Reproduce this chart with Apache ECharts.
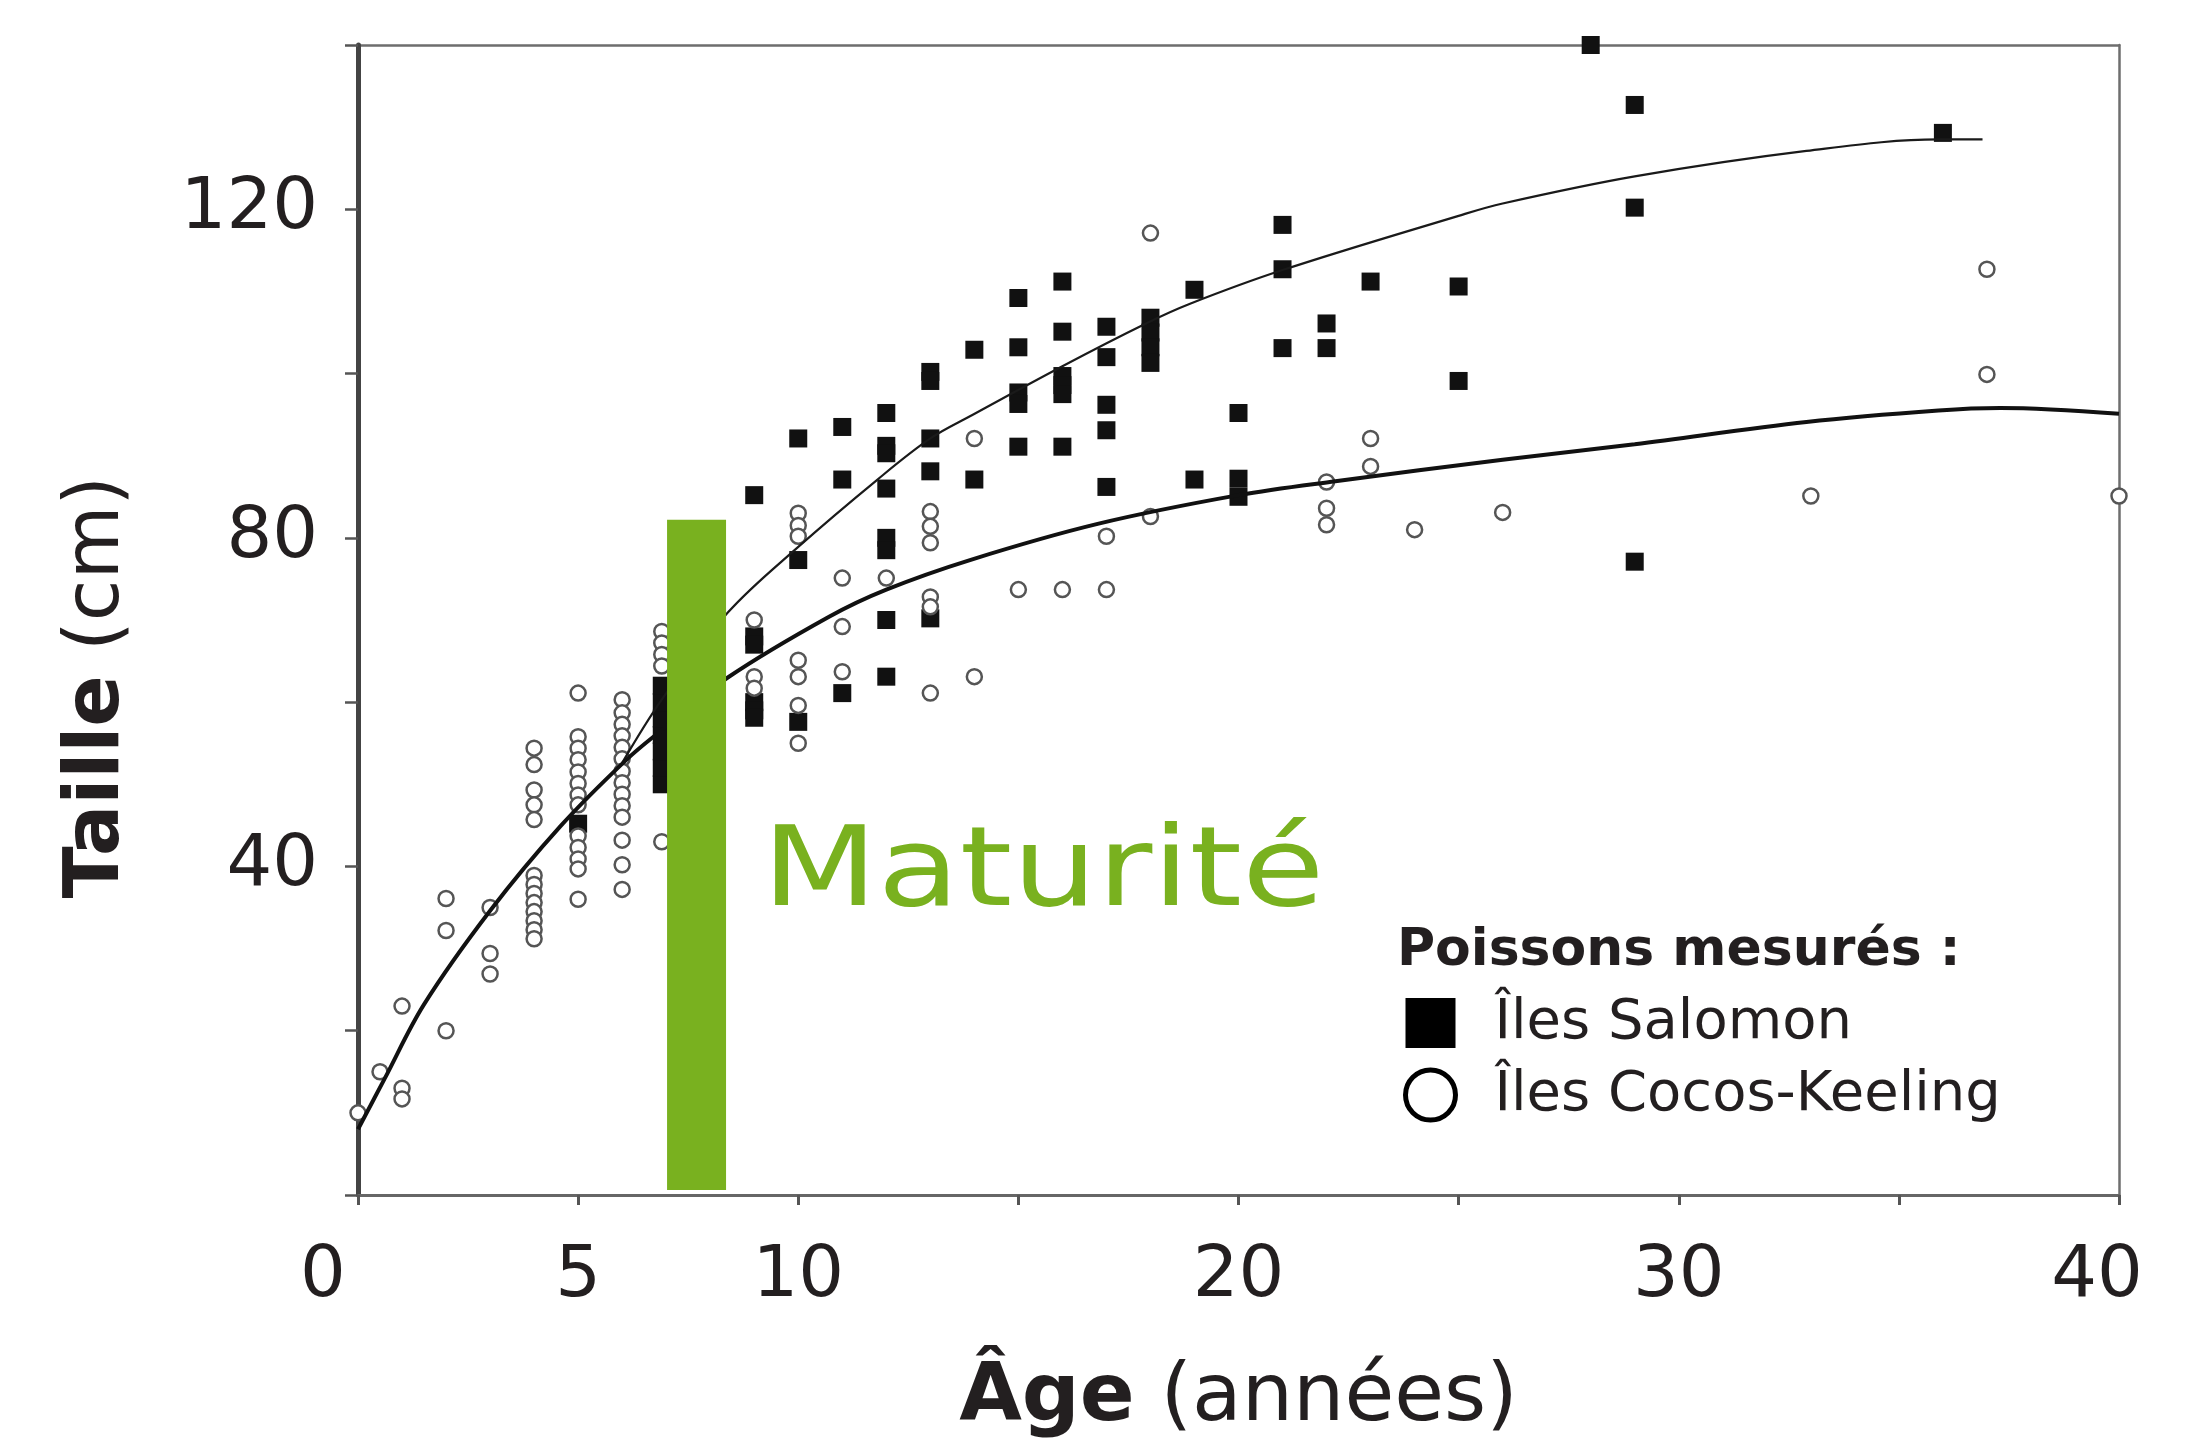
<!DOCTYPE html>
<html>
<head>
<meta charset="utf-8">
<script src="https://cdn.jsdelivr.net/npm/echarts@6/dist/echarts.min.js"></script>
<style>
html,body{margin:0;padding:0;background:#fff;}
#c{width:2191px;height:1445px;}
</style>
</head>
<body>
<div id="c"></div>
<script>
// ---- Data ----
// Îles Salomon (filled squares): [age (années), taille (cm)]
const salomon = [
  [5,45.2],
  [6.9,50],[6.9,52],[6.9,54],[6.9,56],[6.9,58],[6.9,60],[6.9,62],
  [9,85.2],[9,68.0],[9,67.0],[9,60.0],[9,59.0],[9,58.1],
  [10,92.1],[10,77.3],[10,57.6],
  [11,93.5],[11,87.1],[11,61.1],
  [12,95.2],[12,91.2],[12,90.3],[12,86.0],[12,80.0],[12,78.5],[12,70.0],[12,63.1],
  [13,100.2],[13,99.1],[13,92.1],[13,88.1],[13,70.2],
  [14,102.9],[14,87.1],
  [15,109.2],[15,103.2],[15,97.7],[15,96.3],[15,91.1],
  [16,111.2],[16,105.1],[16,99.7],[16,98.6],[16,97.5],[16,91.1],
  [17,105.7],[17,102.0],[17,96.2],[17,93.1],[17,86.2],
  [18,106.8],[18,105.0],[18,103.2],[18,101.3],
  [19,110.2],[19,87.1],
  [20,95.2],[20,87.2],[20,85.0],
  [21,118.1],[21,112.7],[21,103.1],
  [22,106.1],[22,103.1],
  [23,111.2],
  [25,110.6],[25,99.1],
  [28,140],
  [29,132.7],[29,120.2],[29,77.1],
  [36,129.3]
];
// Îles Cocos-Keeling (open circles): [age, taille]
const cocos = [
  [0,10.0],[0.5,15.0],
  [1,23.0],[1,13.0],[1,11.7],
  [2,36.1],[2,32.2],[2,20.0],
  [3,35.0],[3,29.4],[3,26.9],
  [4,54.4],[4,52.4],[4,49.3],[4,47.5],[4,45.7],
  [4,38.9],[4,37.8],[4,36.7],[4,35.6],[4,34.5],[4,33.4],[4,32.3],[4,31.2],
  [5,61.1],[5,55.8],[5,54.4],[5,53.0],[5,51.5],[5,50.1],[5,48.7],[5,47.5],
  [5,43.7],[5,42.3],[5,40.9],[5,39.7],[5,36.0],
  [6,60.3],[6,58.7],[6,57.3],[6,55.9],[6,54.5],[6,53.1],[6,51.6],[6,50.2],[6,48.8],[6,47.4],[6,46.0],
  [6,43.2],[6,40.2],[6,37.2],
  [6.9,68.6],[6.9,67.2],[6.9,65.8],[6.9,64.4],[6.9,43.0],
  [9,70.0],[9,63.1],[9,61.7],
  [10,83.0],[10,81.5],[10,80.2],[10,65.1],[10,63.1],[10,59.6],[10,55.0],
  [11,75.1],[11,69.2],[11,63.7],
  [12,75.1],
  [13,83.2],[13,81.4],[13,79.4],[13,72.8],[13,71.6],[13,61.1],
  [14,92.1],[14,63.1],
  [15,73.7],[16,73.7],
  [17,80.2],[17,73.7],
  [18,117.1],[18,82.6],
  [22,86.8],[22,83.6],[22,81.6],
  [23,92.1],[23,88.7],
  [24,81.0],[26,83.1],[33,85.1],
  [37,112.7],[37,99.9],
  [40,85.1]
];
// Growth curves
const salomonCurve = [
  [6.0,52.6],[6.9,60.3],[8.4,70.9],[10.0,78.9],[11.8,87.1],[13.0,92.1],[13.9,94.8],
  [16.0,100.9],[17.9,106.1],[18.9,108.5],[21.0,112.6],[25.0,119.2],[26.0,120.7],
  [29.0,124.0],[32.9,127.1],[35.9,128.5],[36.9,128.5]
];
const cocosCurve = [
  [0,8.0],[0.6,14.1],[1.5,23.2],[3.0,34.6],[4.6,44.9],[6.1,53.0],[6.9,56.6],[8.4,63.0],
  [10.7,70.4],[12.0,73.7],[13.9,77.3],[16.8,81.7],[20.0,85.2],[22.2,86.9],[26.0,89.5],
  [29.0,91.4],[32.9,94.1],[35.9,95.5],[37.3,95.8],[40.0,95.1]
];
// Maturity band: [age start, age end, taille bottom, taille top]
const maturity = [7.02, 8.36, 0.6, 82.2];
// Tick labels shown
const xLabels = [0,5,10,20,30,40];
const yLabels = [40,80,120];
const seriesNames = ['Îles Salomon','Îles Cocos-Keeling'];

// ---- Chart ----
const FONT = 'DejaVu Sans';
const TEXT = '#231f20';
const GREEN = '#79b11f';
const chart = echarts.init(document.getElementById('c'), null, {renderer:'canvas'});

const frameAxis = {
  show:true,
  axisLine:{show:true,onZero:false,lineStyle:{color:'#6e6e6e',width:2.5}},
  axisTick:{show:false}, axisLabel:{show:false}, splitLine:{show:false}
};

const option = {
  animation:false,
  backgroundColor:'#ffffff',
  grid:{left:358,right:72,top:45,bottom:250,show:false},
  title:{
    text:'Poissons mesurés :',
    left:1392, top:920,
    textStyle:{fontFamily:FONT,fontWeight:'bold',fontSize:52,color:TEXT}
  },
  legend:{
    orient:'vertical', left:1398, top:990,
    itemWidth:50, itemHeight:50, itemGap:16,
    selectedMode:false,
    textStyle:{fontFamily:FONT,fontSize:56,color:TEXT,padding:[0,0,0,34]},
    data:[
      {name:seriesNames[0], icon:'rect', itemStyle:{color:'#000',borderWidth:0}},
      {name:seriesNames[1], icon:'circle', itemStyle:{color:'#fff',borderColor:'#000',borderWidth:5}}
    ]
  },
  xAxis:[{
    type:'value', min:0, max:40, interval:5, position:'bottom', z:3,
    axisLine:{show:true,onZero:false,lineStyle:{color:'#666',width:3}},
    axisTick:{show:true,length:10,lineStyle:{color:'#555',width:3}},
    splitLine:{show:false},
    axisLabel:{
      margin:46, fontFamily:FONT, fontSize:72, color:TEXT,
      formatter:function(v){
        if (xLabels.indexOf(v) < 0) return '';
        if (v === 0) return '{z|' + v + '}';
        if (v === 40) return '{f|' + v + '}';
        return String(v);
      },
      rich:{
        z:{fontFamily:FONT,fontSize:72,color:TEXT,padding:[0,70,0,0]},
        f:{fontFamily:FONT,fontSize:72,color:TEXT,padding:[0,44,0,0]}
      }
    },
    name:'{b|Âge}{n|\u00a0(années)}',
    nameLocation:'middle', nameGap:163,
    nameTextStyle:{
      color:TEXT,
      rich:{
        b:{fontFamily:FONT,fontWeight:'bold',fontSize:81,color:TEXT},
        n:{fontFamily:FONT,fontSize:81,color:TEXT}
      }
    }
  }, Object.assign({type:'value',min:0,max:40,position:'top'}, frameAxis)],
  yAxis:[{
    type:'value', min:0, max:140, interval:20, position:'left', z:3,
    axisLine:{show:true,onZero:false,lineStyle:{color:'#444',width:5}},
    axisTick:{show:true,length:13,lineStyle:{color:'#555',width:2.5}},
    splitLine:{show:false},
    axisLabel:{
      margin:40, fontFamily:FONT, fontSize:72, color:TEXT,
      formatter:function(v){ return yLabels.indexOf(v) >= 0 ? String(v) : ''; }
    },
    name:'{b|Taille}{n|\u00a0(cm)}',
    nameLocation:'middle', nameRotate:90, nameGap:222,
    nameTextStyle:{
      color:TEXT,
      padding:[0,134,0,0],
      rich:{
        b:{fontFamily:FONT,fontWeight:'bold',fontSize:76,color:TEXT},
        n:{fontFamily:FONT,fontSize:76,color:TEXT}
      }
    }
  }, Object.assign({type:'value',min:0,max:140,position:'right'}, frameAxis)],
  graphic:[{
    type:'text', x:762, y:876, z:100, scaleY:0.82,
    style:{text:'Maturité', fontFamily:FONT, fontSize:134, fill:GREEN, verticalAlign:'middle', align:'left'}
  }],
  series:[
    {
      name:seriesNames[0], type:'scatter', z:2, clip:false,
      symbol:'rect', symbolSize:18,
      itemStyle:{color:'#111',opacity:1},
      data:salomon
    },
    {
      name:seriesNames[1], type:'scatter', z:3, clip:false,
      symbol:'circle', symbolSize:15,
      itemStyle:{color:'#fff',borderColor:'#555',borderWidth:2.5,opacity:1},
      data:cocos
    },
    {
      name:'courbe Salomon', type:'line', z:4, showSymbol:false, smooth:0.35,
      lineStyle:{color:'#1a1a1a',width:2.2},
      data:salomonCurve
    },
    {
      name:'courbe Cocos', type:'line', z:4, showSymbol:false, smooth:0.35,
      lineStyle:{color:'#111',width:4},
      data:cocosCurve
    },
    {
      name:'Maturité', type:'custom', z:6,
      encode:{x:[0,1], y:[2,3]},
      renderItem:function(params, api){
        const p0 = api.coord([api.value(0), api.value(3)]);
        const p1 = api.coord([api.value(1), api.value(2)]);
        return {type:'rect', shape:{x:p0[0], y:p0[1], width:p1[0]-p0[0], height:p1[1]-p0[1]}, style:{fill:GREEN}};
      },
      data:[maturity]
    }
  ]
};
chart.setOption(option);
</script>
</body>
</html>
